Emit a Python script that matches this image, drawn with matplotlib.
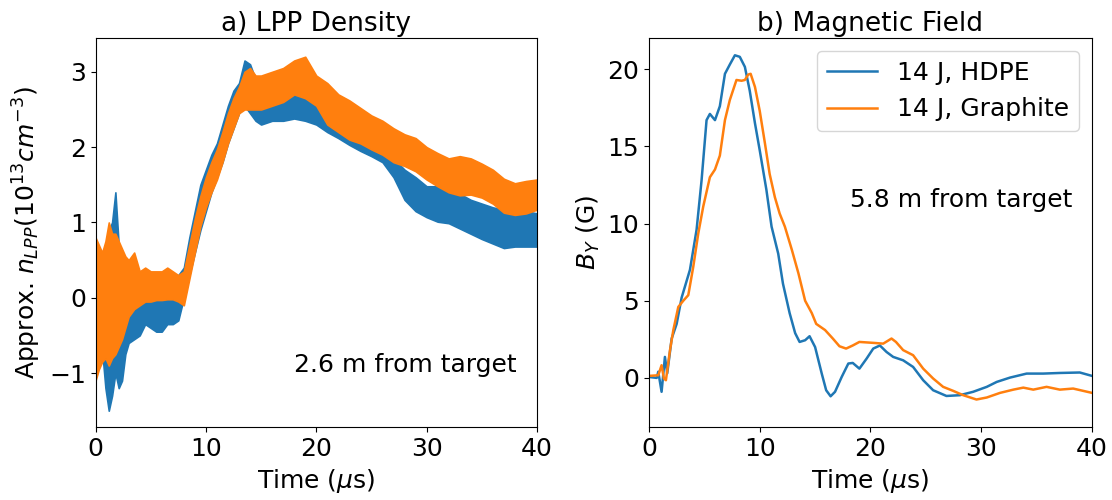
import numpy as np
import matplotlib
matplotlib.use("Agg")
import matplotlib.pyplot as plt

plt.rcParams["font.family"] = ["DejaVu Sans"]
plt.rcParams["font.size"] = 18
plt.rcParams["mathtext.fontset"] = "dejavusans"

BLUE = "#1f77b4"
ORANGE = "#ff7f0e"

# ---- a) LPP density: noisy traces given as lower/upper extent vs time ----
t_dens = [0.0, 0.3, 0.6, 0.9, 1.2, 1.5, 1.8, 2.1, 2.4, 2.7, 3.0, 3.5, 4.0, 4.5,
          5.0, 5.5, 6.0, 6.5, 7.0, 7.5, 8.0, 8.5, 9.0, 9.5, 10.0, 10.5, 11.0,
          11.5, 12.0, 12.5, 13.0, 13.5, 14.0, 14.5, 15.0, 16.0, 17.0, 18.0,
          19.0, 20.0, 21.0, 22.0, 23.0, 24.0, 25.0, 26.0, 27.0, 28.0, 29.0,
          30.0, 31.0, 32.0, 33.0, 34.0, 35.0, 36.0, 37.0, 38.0, 39.0, 40.0]

hdpe_lo = [-0.6, -0.9, -0.7, -1.2, -1.5, -1.3, -1.0, -1.2, -1.1, -0.75, -0.6,
           -0.55, -0.5, -0.35, -0.4, -0.45, -0.45, -0.35, -0.35, -0.3, 0.0,
           0.3, 0.6, 0.9, 1.15, 1.4, 1.6, 1.8, 2.05, 2.25, 2.45, 2.55, 2.45,
           2.35, 2.3, 2.35, 2.35, 2.38, 2.35, 2.3, 2.2, 2.12, 2.03, 1.95,
           1.88, 1.8, 1.6, 1.3, 1.15, 1.07, 1.01, 0.99, 0.92, 0.85, 0.78,
           0.72, 0.66, 0.68, 0.68, 0.68]
hdpe_hi = [0.5, 0.3, 0.6, 0.4, 0.9, 1.0, 1.4, 0.7, 0.5, 0.45, 0.4, 0.35, 0.3,
           0.3, 0.3, 0.3, 0.3, 0.35, 0.3, 0.3, 0.4, 0.8, 1.15, 1.5, 1.7, 1.9,
           2.05, 2.3, 2.55, 2.75, 2.85, 3.15, 3.1, 2.9, 2.8, 2.75, 2.75, 2.77,
           2.72, 2.68, 2.6, 2.45, 2.38, 2.3, 2.15, 2.0, 1.85, 1.7, 1.6, 1.48,
           1.48, 1.44, 1.38, 1.3, 1.25, 1.2, 1.17, 1.17, 1.15, 1.12]

graph_lo = [-1.1, -0.95, -0.85, -0.8, -0.9, -0.8, -0.75, -0.65, -0.55, -0.4,
            -0.25, -0.15, -0.1, -0.05, -0.05, -0.03, -0.03, -0.02, -0.02,
            -0.05, -0.1, 0.25, 0.6, 0.95, 1.2, 1.4, 1.57, 1.8, 2.05, 2.25,
            2.45, 2.5, 2.5, 2.5, 2.5, 2.55, 2.6, 2.7, 2.65, 2.55, 2.3, 2.2,
            2.1, 2.05, 1.97, 1.9, 1.8, 1.75, 1.68, 1.57, 1.48, 1.4, 1.36,
            1.37, 1.33, 1.25, 1.13, 1.1, 1.12, 1.17]
graph_hi = [0.8, 0.7, 0.6, 0.75, 1.0, 0.85, 0.85, 0.75, 0.65, 0.55, 0.5, 0.6,
            0.35, 0.4, 0.35, 0.35, 0.35, 0.4, 0.35, 0.3, 0.35, 0.7, 1.05,
            1.35, 1.6, 1.8, 1.97, 2.2, 2.45, 2.65, 2.8, 3.0, 3.05, 2.95, 2.95,
            3.0, 3.05, 3.15, 3.2, 2.95, 2.85, 2.7, 2.62, 2.52, 2.42, 2.35,
            2.25, 2.17, 2.12, 2.0, 1.92, 1.85, 1.88, 1.85, 1.78, 1.7, 1.58,
            1.52, 1.55, 1.57]

# ---- b) Magnetic field B_Y ----
t_hdpe = [0.0, 0.7, 0.84, 1.14, 1.44, 1.65, 2.05, 2.5, 2.95, 3.7, 4.3, 4.75,
          5.2, 5.5, 5.96, 6.4, 6.86, 7.3, 7.76, 8.2, 8.66, 9.1, 9.57, 10.0,
          10.6, 11.07, 11.67, 12.1, 12.7, 13.2, 13.6, 14.1, 14.5, 15.0, 15.6,
          16.0, 16.4, 16.8, 17.4, 18.0, 18.4, 19.0, 19.65, 20.25, 20.85,
          21.45, 22.05, 22.95, 23.85, 24.76, 25.66, 26.86, 28.07, 29.27,
          30.5, 31.4, 32.6, 34.1, 35.6, 37.1, 38.9, 40.0]
b_hdpe = [0.06, 0.0, 0.4, -0.9, 1.36, 0.3, 2.55, 3.5, 5.2, 7.0, 9.6, 12.8,
          16.7, 17.1, 16.7, 17.6, 19.7, 20.3, 20.9, 20.8, 20.15, 18.6, 16.5,
          14.75, 12.2, 9.8, 8.05, 6.1, 4.2, 2.9, 2.33, 2.44, 2.7, 2.0, 0.28,
          -0.8, -1.19, -0.9, 0.06, 0.93, 0.97, 0.6, 1.25, 1.9, 2.1, 1.68,
          1.36, 1.14, 0.71, -0.15, -0.8, -1.17, -1.12, -0.9, -0.58, -0.26,
          0.02, 0.28, 0.28, 0.32, 0.35, 0.13]

t_graph = [0.0, 0.84, 1.14, 1.35, 1.53, 1.9, 2.2, 2.65, 3.1, 3.55, 4.0, 4.45,
           4.9, 5.5, 5.96, 6.4, 6.86, 7.3, 7.9, 8.36, 8.66, 8.96, 9.18, 9.57,
           10.0, 10.47, 10.9, 11.37, 11.8, 12.27, 12.9, 13.5, 14.1, 14.7,
           15.1, 15.9, 16.6, 17.2, 17.8, 18.4, 19.0, 20.25, 21.15, 21.9,
           22.3, 22.95, 23.85, 24.76, 25.66, 26.56, 27.47, 28.37, 29.57,
           30.5, 31.7, 32.9, 33.8, 34.7, 35.9, 37.1, 38.3, 40.0]
b_graph = [0.13, 0.17, 0.82, -0.04, -0.15, 1.8, 3.1, 4.6, 5.0, 5.36, 7.2,
           9.35, 11.1, 13.0, 13.5, 14.4, 16.7, 18.0, 19.3, 19.25, 19.3,
           19.65, 19.7, 18.85, 17.3, 15.2, 13.2, 11.7, 10.65, 9.8, 8.3, 6.76,
           5.0, 4.2, 3.5, 3.1, 2.55, 2.05, 1.9, 2.1, 2.33, 2.27, 2.22, 2.55,
           2.33, 1.8, 1.47, 0.6, -0.04, -0.58, -0.84, -1.12, -1.4, -1.27,
           -0.97, -0.76, -0.63, -0.76, -0.58, -0.76, -0.69, -0.97]

fig = plt.figure(figsize=(11.12, 5.0), dpi=100)
ax1 = fig.add_axes([0.0859, 0.1454, 0.3970, 0.7780])
ax2 = fig.add_axes([0.5836, 0.1454, 0.3984, 0.7780])

# density bands (HDPE underneath, graphite on top)
for lo, hi, col in [(hdpe_lo, hdpe_hi, BLUE), (graph_lo, graph_hi, ORANGE)]:
    ax1.fill_between(t_dens, lo, hi, color=col, linewidth=1.2, edgecolor=col)

ax1.set_xlim(0, 40)
ax1.set_ylim(-1.72, 3.445)
ax1.set_xticks([0, 10, 20, 30, 40])
ax1.set_yticks([-1, 0, 1, 2, 3])
ax1.set_title("a) LPP Density", fontsize=19, pad=5)
ax1.set_xlabel(r"Time ($\mu$s)")
ax1.set_ylabel(r"Approx. $n_{LPP}(10^{13}cm^{-3})$")
ax1.text(0.955, 0.16, "2.6 m from target", transform=ax1.transAxes,
         ha="right", va="center")

ax2.plot(t_hdpe, b_hdpe, color=BLUE, lw=1.8, label="14 J, HDPE")
ax2.plot(t_graph, b_graph, color=ORANGE, lw=1.8, label="14 J, Graphite")
ax2.set_xlim(0, 40)
ax2.set_ylim(-3.2, 22.0)
ax2.set_xticks([0, 10, 20, 30, 40])
ax2.set_yticks([0, 5, 10, 15, 20])
ax2.set_title("b) Magnetic Field", fontsize=19, pad=5)
ax2.set_xlabel(r"Time ($\mu$s)")
ax2.set_ylabel(r"$B_Y$ (G)")
ax2.text(0.955, 0.584, "5.8 m from target", transform=ax2.transAxes,
         ha="right", va="center")
ax2.legend(loc="upper right")

fig.savefig("out.png", dpi=100)
